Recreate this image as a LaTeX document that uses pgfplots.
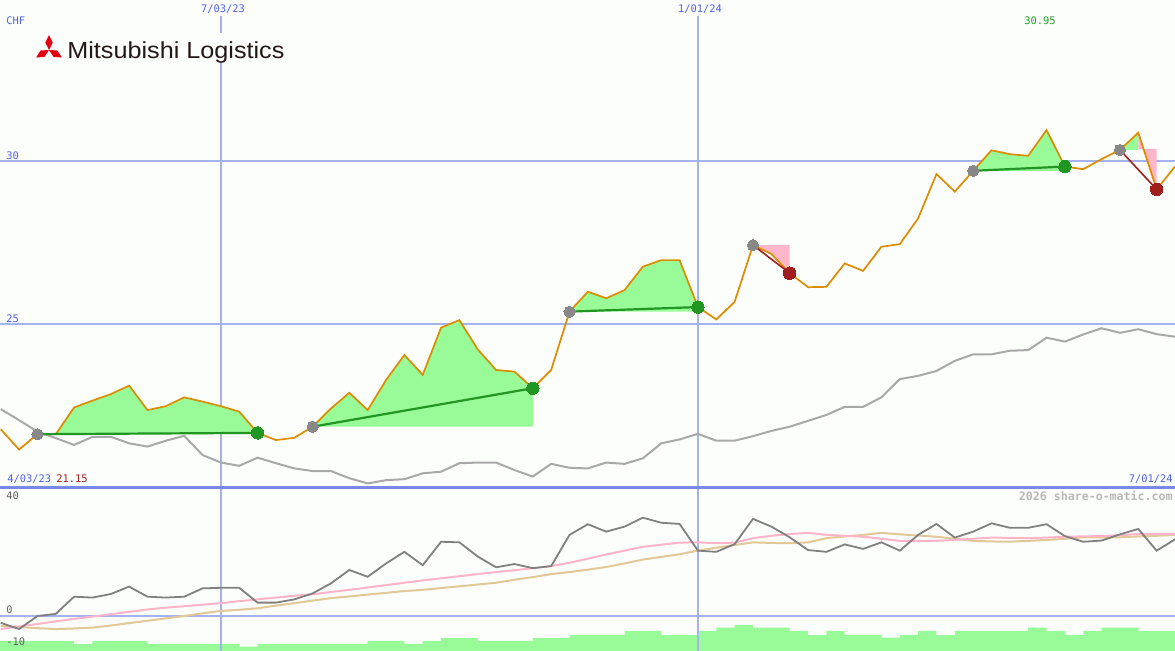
\documentclass[border=0pt]{standalone}
\usepackage{graphicx}
\usepackage{pgfplots}
\pgfplotsset{compat=1.18}
\usepackage{fontspec}
\setmainfont{DejaVu Sans Mono}
\newfontfamily\logofont{Liberation Sans}
\definecolor{bg}{RGB}{252,254,252}
\definecolor{gridblue}{RGB}{164,178,240}
\definecolor{frameblue}{RGB}{120,136,232}
\definecolor{lblblue}{RGB}{80,96,232}
\definecolor{pricec}{RGB}{221,140,0}
\definecolor{benchgray}{RGB}{168,168,168}
\definecolor{fillgreen}{RGB}{152,251,152}
\definecolor{fillpink}{RGB}{255,182,200}
\definecolor{tradegreen}{RGB}{34,150,34}
\definecolor{tradered}{RGB}{160,30,30}
\definecolor{dotgray}{RGB}{136,136,136}
\definecolor{oscgray}{RGB}{128,128,128}
\definecolor{mapink}{RGB}{255,180,200}
\definecolor{matan}{RGB}{226,200,150}
\definecolor{logored}{RGB}{228,0,18}
\definecolor{logotext}{RGB}{35,24,21}
\definecolor{lblgray}{RGB}{96,96,96}
\definecolor{wmgray}{RGB}{184,184,184}
\definecolor{lblred}{RGB}{165,32,32}
\definecolor{lblgreen}{RGB}{32,160,32}

\pgfplotstableread{
w price
1 21.77
2 21.15
3 21.62
4 21.62
5 22.44
6 22.65
7 22.85
8 23.11
9 22.36
10 22.48
11 22.75
12 22.62
13 22.48
14 22.31
15 21.66
16 21.44
17 21.51
18 21.85
19 22.41
20 22.89
21 22.36
22 23.28
23 24.05
24 23.44
25 24.89
26 25.12
27 24.22
28 23.59
29 23.54
30 23.03
31 23.59
32 25.38
33 25.99
34 25.79
35 26.04
36 26.76
37 26.96
38 26.96
39 25.52
40 25.14
41 25.68
42 27.42
43 27.15
44 26.56
45 26.13
46 26.14
47 26.86
48 26.63
49 27.37
50 27.45
51 28.24
52 29.60
53 29.06
54 29.70
55 30.33
56 30.21
57 30.16
58 30.95
59 29.83
60 29.75
61 30.06
62 30.34
63 30.87
64 29.13
65 29.83
}\pricetable

\pgfplotstableread{
w bench
1 22.39
2 22.05
3 21.70
4 21.50
5 21.29
6 21.54
7 21.54
8 21.34
9 21.24
10 21.42
11 21.57
12 20.98
13 20.75
14 20.65
15 20.90
16 20.73
17 20.57
18 20.49
19 20.49
20 20.27
21 20.11
22 20.21
23 20.24
24 20.42
25 20.47
26 20.73
27 20.75
28 20.75
29 20.52
30 20.32
31 20.71
32 20.59
33 20.57
34 20.75
35 20.71
36 20.88
37 21.34
38 21.46
39 21.63
40 21.42
41 21.42
42 21.56
43 21.72
44 21.85
45 22.03
46 22.21
47 22.46
48 22.46
49 22.75
50 23.31
51 23.41
52 23.56
53 23.87
54 24.07
55 24.07
56 24.18
57 24.20
58 24.58
59 24.46
60 24.68
61 24.87
62 24.73
63 24.84
64 24.69
65 24.61
}\benchtable

\pgfplotstableread{
w osc pink tan
1 -2.3 -4.4 -3.3
2 -4.4 -3.5 -3.7
3 0.0 -2.7 -4.1
4 0.7 -1.8 -4.4
5 6.5 -1.0 -4.2
6 6.2 -0.2 -3.9
7 7.4 0.6 -3.2
8 9.9 1.4 -2.4
9 6.5 2.2 -1.6
10 6.2 2.8 -0.8
11 6.5 3.3 0.0
12 9.3 3.8 0.9
13 9.5 4.3 1.7
14 9.5 5.0 2.1
15 4.5 5.6 2.6
16 4.5 6.2 3.5
17 5.6 6.8 4.3
18 7.6 7.3 5.2
19 11.0 8.1 6.0
20 15.5 8.8 6.6
21 13.2 9.6 7.2
22 17.7 10.4 7.8
23 21.6 11.2 8.4
24 17.1 12.0 8.8
25 25.0 12.7 9.4
26 24.8 13.4 10.0
27 20.0 14.1 10.6
28 16.4 14.8 11.2
29 17.5 15.4 12.2
30 16.1 16.1 13.1
31 16.8 16.8 14.1
32 27.3 17.9 14.8
33 30.9 19.3 15.6
34 28.4 20.7 16.5
35 30.1 22.0 17.7
36 33.1 23.3 19.0
37 31.4 24.0 19.9
38 31.0 24.7 20.8
39 22.0 24.8 22.0
40 21.6 24.5 23.0
41 24.2 24.7 23.9
42 32.7 26.2 24.8
43 30.1 27.0 24.6
44 26.5 27.6 24.5
45 22.2 28.0 24.8
46 21.6 27.3 26.2
47 24.1 27.0 26.8
48 22.6 26.7 27.3
49 24.8 26.0 28.0
50 22.0 25.3 27.5
51 27.3 25.3 27.1
52 31.0 25.3 26.7
53 26.4 25.6 26.0
54 28.4 26.0 25.3
55 31.2 26.4 25.1
56 29.7 26.3 25.0
57 29.7 26.2 25.3
58 30.9 26.4 25.6
59 26.9 26.7 26.0
60 25.0 26.8 26.5
61 25.4 26.9 26.5
62 27.5 27.2 26.5
63 29.3 27.6 26.8
64 22.0 27.6 27.0
65 25.8 27.6 27.3
}\osctable

\begin{document}
\begin{tikzpicture}[x=0.5pt,y=0.5pt]
\useasboundingbox (0,0) rectangle (1175,650);
\fill[bg] (0,0) rectangle (1175,650);

% ---------------- top panel ----------------
\begin{axis}[at={(0pt,81.5pt)}, anchor=south west, scale only axis,
  width=587.5pt, height=243.5pt, xmin=0.96, xmax=65, ymin=20, ymax=34.94,
  hide axis]
\draw[gridblue, line width=1pt] (axis cs:0,25) -- (axis cs:66,25);
\draw[gridblue, line width=1pt] (axis cs:0,30) -- (axis cs:66,30);
\draw[gridblue, line width=0.75pt] (axis cs:13,19) -- (axis cs:13,34.45);
\draw[gridblue, line width=0.75pt] (axis cs:39,19) -- (axis cs:39,34.45);
% trade areas
\addplot[fill=fillgreen, draw=none] coordinates {(3,21.62) (4,21.62) (5,22.44) (6,22.65) (7,22.85) (8,23.11) (9,22.36) (10,22.48) (11,22.75) (12,22.62) (13,22.48) (14,22.31) (15,21.66) (15,21.62)} -- cycle;
\addplot[fill=fillgreen, draw=none] coordinates {(18,21.85) (19,22.41) (20,22.89) (21,22.36) (22,23.28) (23,24.05) (24,23.44) (25,24.89) (26,25.12) (27,24.22) (28,23.59) (29,23.54) (30,23.03) (30,21.85)} -- cycle;
\addplot[fill=fillgreen, draw=none] coordinates {(32,25.38) (33,25.99) (34,25.79) (35,26.04) (36,26.76) (37,26.96) (38,26.96) (39,25.52) (39,25.38)} -- cycle;
\addplot[fill=fillpink, draw=none] coordinates {(42,27.42) (43,27.15) (44,26.56) (44,27.42)} -- cycle;
\addplot[fill=fillgreen, draw=none] coordinates {(54,29.70) (55,30.33) (56,30.21) (57,30.16) (58,30.95) (59,29.83) (59,29.70)} -- cycle;
\addplot[fill=fillgreen, draw=none] coordinates {(62,30.34) (63,30.87) (63,30.34)} -- cycle;
\addplot[fill=fillpink, draw=none] coordinates {(63,30.87) (64,29.13) (64,30.37) (63,30.37)} -- cycle;
% lines
\addplot[benchgray, line width=1pt] table[x=w,y=bench] {\benchtable};
\addplot[pricec, line width=0.85pt] table[x=w,y=price] {\pricetable};
\addplot[tradegreen, line width=1.1pt] coordinates {(3,21.62) (15,21.66)};
\addplot[tradegreen, line width=1.1pt] coordinates {(18,21.85) (30,23.03)};
\addplot[tradegreen, line width=1.1pt] coordinates {(32,25.38) (39,25.52)};
\addplot[tradegreen, line width=1.1pt] coordinates {(54,29.70) (59,29.83)};
\addplot[tradered, line width=0.8pt] coordinates {(42,27.42) (44,26.56)};
\addplot[tradered, line width=0.8pt] coordinates {(62,30.34) (64,29.13)};
% signals
\addplot[dotgray, only marks, mark=*, mark size=2.8pt, mark options={draw=dotgray, fill=dotgray, line width=0pt}] coordinates {(3,21.62) (18,21.85) (32,25.38) (42,27.42) (54,29.70) (62,30.34)};
\addplot[tradegreen, only marks, mark=*, mark size=3.1pt, mark options={draw=tradegreen, fill=tradegreen, line width=0pt}] coordinates {(15,21.66) (30,23.03) (39,25.52) (59,29.83)};
\addplot[tradered, only marks, mark=*, mark size=3.1pt, mark options={draw=tradered, fill=tradered, line width=0pt}] coordinates {(44,26.56) (64,29.13)};
\end{axis}

% ---------------- bottom panel ----------------
\begin{axis}[at={(0pt,0pt)}, anchor=south west, scale only axis,
  width=587.5pt, height=81.5pt, xmin=0.96, xmax=65, ymin=-11.45, ymax=43.43,
  hide axis]
\addplot[fill=fillgreen, draw=none, const plot mark left] coordinates {
 (0.96,-8.4) (5,-9.4) (6,-8.4) (9,-9.4) (14,-10.3) (15,-9.4) (21,-8.4) (23,-9.4)
 (24,-8.4) (25,-7.4) (27,-8.4) (30,-7.4) (32,-6.4) (35,-5.05) (37,-6.4) (39,-5.05)
 (40,-3.9) (41,-3.0) (42,-3.9) (44,-5.05) (45,-6.4) (46,-5.05) (47,-6.4) (49,-7.3)
 (50,-6.4) (51,-5.05) (52,-6.4) (53,-5.05) (57,-3.9) (58,-5.05) (59,-6.4) (60,-5.05)
 (61,-3.9) (63,-5.05) (66,-5.05) (66,-13) (0,-13) (0,-8.4)} -- cycle;
\draw[gridblue, line width=1pt] (axis cs:0,0) -- (axis cs:66,0);
\draw[gridblue, line width=0.75pt] (axis cs:13,-13) -- (axis cs:13,45);
\draw[gridblue, line width=0.75pt] (axis cs:39,-13) -- (axis cs:39,45);
\addplot[matan, line width=1pt] table[x=w,y=tan] {\osctable};
\addplot[mapink, line width=1pt] table[x=w,y=pink] {\osctable};
\addplot[oscgray, line width=0.9pt] table[x=w,y=osc] {\osctable};
\end{axis}

% frame line between panels
\draw[frameblue, line width=1.5pt] (0,163) -- (1175,163);

% logo
\fill[bg] (30,588) rectangle (292,617);
\begin{scope}[shift={(49,600)}, scale=1.07]
\fill[logored] (0,0) -- (-3.5,7) -- (0,14) -- (3.5,7) -- cycle;
\fill[logored] (0,0) -- (7.81,-0.47) -- (12.1,-7) -- (4.31,-6.53) -- cycle;
\fill[logored] (0,0) -- (-4.31,-6.53) -- (-12.1,-7) -- (-7.81,-0.47) -- cycle;
\end{scope}
\node[anchor=base west, inner sep=0pt, text=logotext] at (67,592)
  {\scalebox{1}[0.92]{\logofont\fontsize{12.6}{14}\selectfont Mitsubishi Logistics}};

% labels
\tikzset{lbl/.style={inner sep=0pt, font=\fontsize{5.2}{6}\selectfont}}
\node[lbl, anchor=west, text=lblblue] at (6,629) {CHF};
\node[lbl, anchor=center, text=lblblue] at (223,641) {7/03/23};
\node[lbl, anchor=center, text=lblblue] at (700,641) {1/01/24};
\node[lbl, anchor=center, text=lblgreen] at (1040,629) {30.95};
\node[lbl, anchor=west, text=lblblue] at (6,494) {30};
\node[lbl, anchor=west, text=lblblue] at (6,331) {25};
\node[lbl, anchor=west, text=lblblue] at (7,171) {4/03/23};
\node[lbl, anchor=west, text=lblred] at (56,171) {21.15};
\node[lbl, anchor=east, text=lblblue] at (1173,171) {7/01/24};
\node[inner sep=0pt, anchor=east, text=wmgray, font=\bfseries\fontsize{5.8}{7}\selectfont] at (1173,154) {2026 share-o-matic.com};
\node[lbl, anchor=west, text=lblgray] at (6,154) {40};
\node[lbl, anchor=west, text=lblgray] at (6,40) {0};
\node[lbl, anchor=west, text=lblgray] at (6,8) {-10};
\end{tikzpicture}
\end{document}
